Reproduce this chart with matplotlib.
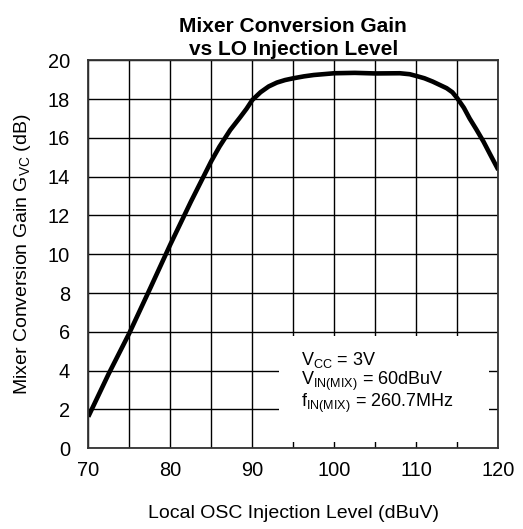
import matplotlib
matplotlib.use("Agg")
import matplotlib.pyplot as plt
from matplotlib.patches import Rectangle
import numpy as np

plt.rcParams['font.family'] = ['Liberation Sans', 'DejaVu Sans']
plt.rcParams['mathtext.fontset'] = 'custom'
plt.rcParams['mathtext.rm'] = 'Liberation Sans'

# Conversion gain vs LO injection level
lo_level = [70, 72.5, 75, 77.5, 80, 82.5, 85, 86, 87.3, 88.5, 89.3, 90, 91, 92, 93, 94,
            95, 96.3, 97.5, 100, 102.5, 105, 108, 109.2, 110, 111, 112, 113, 113.7, 114.4,
            115, 115.8, 116.5, 117.3, 118.2, 119, 120]
gain = [1.63, 3.85, 5.93, 8.2, 10.5, 12.7, 14.8, 15.55, 16.4, 17.05, 17.5, 17.95, 18.35, 18.65,
        18.85, 18.98, 19.07, 19.17, 19.24, 19.33, 19.35, 19.32, 19.33, 19.28, 19.19, 19.07,
        18.9, 18.7, 18.56, 18.35, 18.04, 17.55, 17.0, 16.45, 15.8, 15.15, 14.35]

x_ticks = [70, 80, 90, 100, 110, 120]
y_ticks = list(range(0, 21, 2))

fig = plt.figure(figsize=(5.23, 5.29), dpi=100)
ax = fig.add_axes([0.1688, 0.1526, 0.784, 0.7335])

ax.set_xlim(70, 120)
ax.set_ylim(0, 20)
grid_x = np.arange(70, 121, 5)
ax.set_xticks(grid_x)
ax.set_xticklabels([str(v) if v in x_ticks else '' for v in grid_x])
ax.set_yticks(y_ticks)
ax.tick_params(axis='both', length=0, labelsize=14.4)
ax.tick_params(axis='y', pad=13)
ax.tick_params(axis='x', pad=9)
ax.grid(True, color='black', linewidth=1.0)
ax.set_axisbelow(True)
for s in ax.spines.values():
    s.set_linewidth(1.3)
    s.set_color('#333333')
    s.set_zorder(4)

# white annotation panel over the grid
ax.add_patch(Rectangle((93.3, 0.3), 25.6, 5.5, facecolor='white', edgecolor='none', zorder=1.5))

ax.plot(lo_level, gain, color='black', linewidth=3.3, zorder=3,
        solid_joinstyle='round', solid_capstyle='butt')

conditions = (r'$\mathregular{V_{CC}}$ = 3V' '\n'
              r'$\mathregular{V_{IN(MIX)}}$ = 60dBuV' '\n'
              r'$\mathregular{f_{IN(MIX)}}$ = 260.7MHz')
ax.text(95.9, 2.13, conditions, fontsize=13, va='baseline', ha='left',
        linespacing=0.95, zorder=5)

ax.set_title('Mixer Conversion Gain\nvs LO Injection Level', fontsize=15,
             fontweight='bold', linespacing=1.25, pad=4)
ax.set_xlabel('Local OSC Injection Level (dBuV)', fontsize=14, labelpad=18)
ax.set_ylabel(r'Mixer Conversion Gain $\mathregular{G_{VC}}$ (dB)', fontsize=14, labelpad=11)

fig.savefig('out.png', dpi=100)
